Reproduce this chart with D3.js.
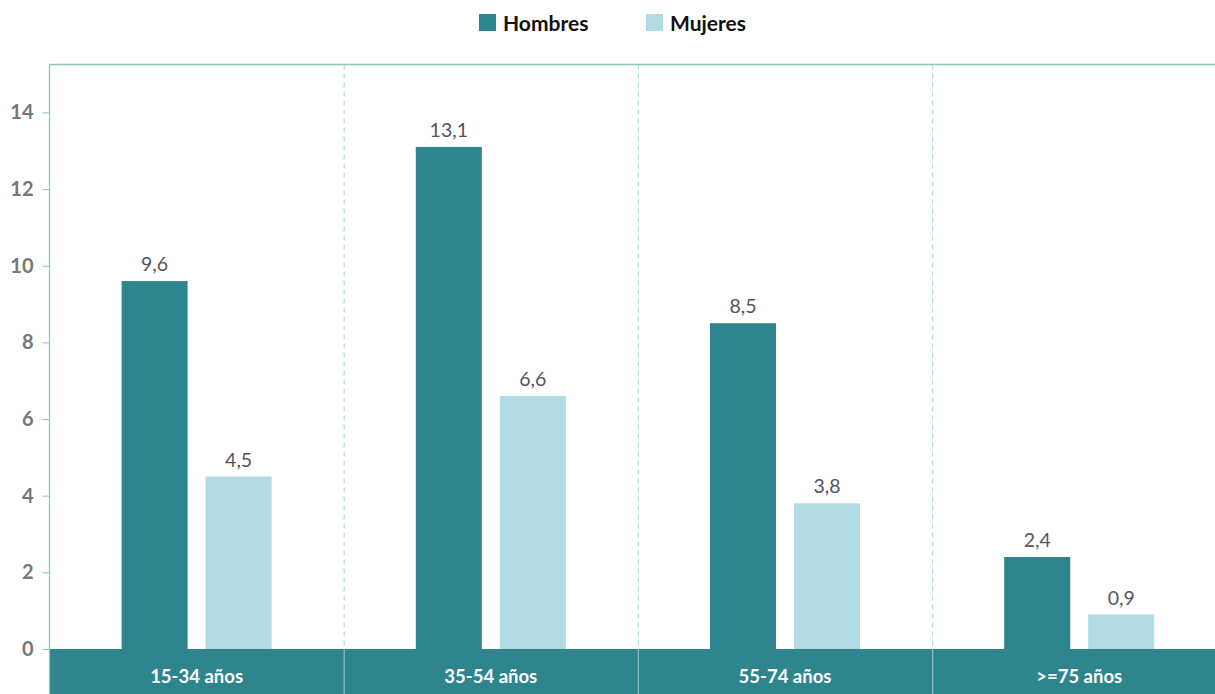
<!DOCTYPE html>
<html>
<head>
<meta charset="utf-8">
<script src="https://cdn.jsdelivr.net/npm/d3@7"></script>
<style>
  html, body { margin: 0; padding: 0; background: #fff; }
  svg { display: block; font-family: Lato, "Open Sans", sans-serif; }
</style>
</head>
<body>
<svg id="chart" width="1215" height="694"></svg>
<script>
// Age groups and values per sex
const categories = ["15-34 años", "35-54 años", "55-74 años", ">=75 años"];
const seriesNames = ["Hombres", "Mujeres"];
const hombres = [9.6, 13.1, 8.5, 2.4];
const mujeres = [4.5, 6.6, 3.8, 0.9];
const yTicks = [0, 2, 4, 6, 8, 10, 12, 14];

const colors = { Hombres: "#2e858e", Mujeres: "#b1dbe3" };
const gridColor = "#8fc5b6";

const W = 1215, H = 694;
const margin = { top: 64.5, left: 49.5, bottom: 45 };
const plotBottom = H - margin.bottom;
const plotRight = margin.left + 4 * 294.2;

const svg = d3.select("#chart");

const x = d3.scaleBand().domain(categories).range([margin.left, plotRight]).padding(0);
const xInner = d3.scaleBand().domain(seriesNames).range([0, x.bandwidth()])
  .paddingInner(0.214).paddingOuter(0.858);
const y = d3.scaleLinear().domain([0, 15.25]).range([plotBottom, margin.top]);

const rows = categories.map((c, i) => ({ cat: c, Hombres: hombres[i], Mujeres: mujeres[i] }));

// Category band under the plot
svg.append("rect")
  .attr("x", margin.left).attr("y", plotBottom)
  .attr("width", plotRight - margin.left).attr("height", H - plotBottom)
  .attr("fill", colors.Hombres);

// Separators between age groups: dashed in plot, solid in the band
const seps = categories.slice(1).map(c => x(c) + 0.5);
svg.selectAll("line.sep").data(seps).enter().append("line")
  .attr("x1", d => d).attr("x2", d => d)
  .attr("y1", margin.top).attr("y2", plotBottom)
  .attr("stroke", "#b5ddd2").attr("stroke-width", 1.2)
  .attr("stroke-dasharray", "5,4");
svg.selectAll("line.sepb").data(seps).enter().append("line")
  .attr("x1", d => d).attr("x2", d => d)
  .attr("y1", plotBottom).attr("y2", H)
  .attr("stroke", "#8cc2c4").attr("stroke-width", 1.2);

// Plot frame: top line
svg.append("line")
  .attr("x1", margin.left).attr("x2", W)
  .attr("y1", margin.top).attr("y2", margin.top)
  .attr("stroke", gridColor).attr("stroke-width", 1.3);

// Y axis
const yAxis = d3.axisLeft(y).tickValues(yTicks).tickSize(7).tickPadding(9)
  .tickFormat(d3.format("d"));
const gy = svg.append("g").attr("transform", `translate(${margin.left},0)`).call(yAxis);
gy.select(".domain").attr("stroke", gridColor).attr("stroke-width", 1.3)
  .attr("d", `M0,${margin.top}V${H}`);
gy.selectAll(".tick line").attr("stroke", gridColor);
gy.selectAll(".tick text")
  .attr("fill", "#777").attr("font-size", 20).attr("font-weight", 700)
  .attr("font-family", "Lato, sans-serif");

// Bars
const groups = svg.selectAll("g.grp").data(rows).enter().append("g")
  .attr("transform", d => `translate(${x(d.cat)},0)`);

groups.selectAll("rect").data(d => seriesNames.map(s => ({ s, v: d[s] }))).enter()
  .append("rect")
  .attr("x", d => xInner(d.s)).attr("width", xInner.bandwidth())
  .attr("y", d => y(d.v)).attr("height", d => y(0) - y(d.v))
  .attr("fill", d => colors[d.s]);

// Value labels
const fmt = v => d3.format(".1f")(v).replace(".", ",");
groups.selectAll("text.val").data(d => seriesNames.map(s => ({ s, v: d[s] }))).enter()
  .append("text")
  .attr("x", d => xInner(d.s) + xInner.bandwidth() / 2)
  .attr("y", d => y(d.v) - 10)
  .attr("text-anchor", "middle")
  .attr("fill", "#555").attr("font-size", 19.5)
  .text(d => fmt(d.v));

// Category labels in the band
svg.selectAll("text.cat").data(categories).enter().append("text")
  .attr("x", d => x(d) + x.bandwidth() / 2)
  .attr("y", plotBottom + 34)
  .attr("text-anchor", "middle")
  .attr("fill", "#fff").attr("font-size", 18.5).attr("font-weight", 700)
  .text(d => d);

// Legend
const legendX = [479, 646];
const legend = svg.selectAll("g.leg").data(seriesNames).enter().append("g")
  .attr("transform", (d, i) => `translate(${legendX[i]},14)`);
legend.append("rect").attr("width", 17).attr("height", 17).attr("fill", d => colors[d]);
legend.append("text").attr("x", 24).attr("y", 16.5)
  .attr("fill", "#111").attr("font-size", 21).attr("font-weight", 700)
  .text(d => d);
</script>
</body>
</html>
